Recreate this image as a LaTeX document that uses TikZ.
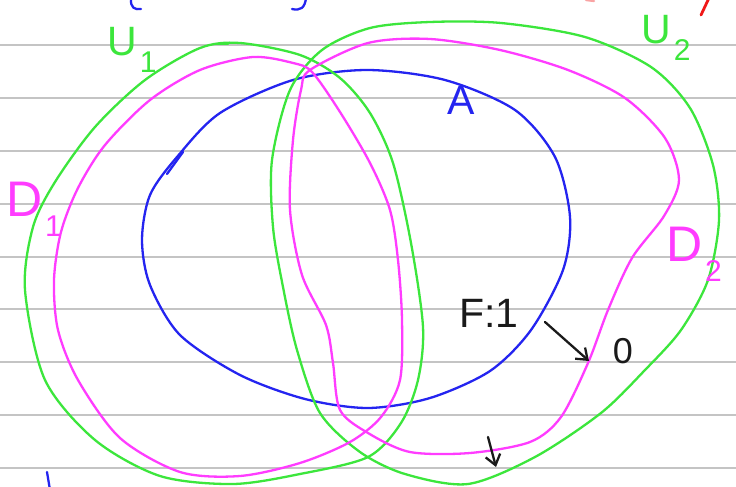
\documentclass[tikz,border=0pt]{standalone}
\usepackage{fontspec}
\setmainfont{Liberation Sans}
\usepackage{xcolor}
\usepackage{tikz}
\usetikzlibrary{arrows.meta}
\definecolor{penGreen}{HTML}{3CE63C}
\definecolor{penMagenta}{HTML}{FF3CFF}
\definecolor{penBlue}{HTML}{2424F0}
\definecolor{penRed}{HTML}{F01818}
\definecolor{penBlack}{HTML}{1A1A1A}
\definecolor{rule}{HTML}{C4C4C4}
\newcommand{\lowidx}[1]{\kern3pt\raisebox{-0.4em}{\fontsize{30}{30}\selectfont #1}}
\tikzset{
  ruling/.style={draw=rule, line width=1.1pt},
  pen/.style={line width=2.3pt, line cap=round, line join=round},
  hand/.style={inner sep=0pt, font=\fontsize{41}{41}\selectfont},
  pointer/.style={pen, draw=penBlack, -{Straight Barb[length=10pt,width=15pt]}},
}

\begin{document}
\begin{tikzpicture}[x=1pt, y=-1pt]
  \useasboundingbox (0,0) rectangle (736,487);
  \fill[white] (0,0) rectangle (736,487);
  % lined paper
  \foreach \ry in {45,98,151,204,257,309,362,415,468}
    \draw[ruling] (0,\ry) -- (736,\ry);

  % set A
  \draw[pen, draw=penBlue] plot[smooth cycle, tension=0.5] coordinates {
    (142,240) (150,195) (177,157) (220,113) (293,80) (367,70) (445,80)
    (515,110) (555,157) (570,217) (563,270) (531,330) (490,371) (430,398)
    (368,408) (305,399) (240,375) (180,335) (150,285)};
  \draw[pen, draw=penBlue] (167,174) -- (183,152);

  % open sets U1, U2
  \draw[pen, draw=penGreen] plot[smooth cycle, tension=0.5] coordinates {
    (25,290) (33,227) (55,182) (95,127) (145,80) (200,48) (240,43) (300,55)
    (340,78) (370,113) (393,163) (411,243) (423,327) (418,380) (401,423)
    (368,457) (300,474) (233,484) (160,476) (95,440) (45,380)};
  \draw[pen, draw=penGreen] (217,44) -- (228,44);
  \draw[pen, draw=penGreen] plot[smooth cycle, tension=0.5] coordinates {
    (370,28) (430,22) (501,23) (585,37) (651,67) (690,108) (713,165)
    (719,220) (708,280) (681,330) (645,370) (601,413) (535,457) (468,484)
    (405,474) (360,452) (320,413) (297,350) (283,287) (273,227)
    (272,160) (290,90) (322,50)};

  % sets D1, D2
  \draw[pen, draw=penMagenta] plot[smooth cycle, tension=0.5] coordinates {
    (54,280) (61,232) (78,188) (105,145) (150,100) (200,70) (253,57)
    (293,63) (312,72) (340,112) (370,163) (390,210) (398,260) (402,320)
    (400,380) (381,417) (350,442) (300,463) (240,476) (180,472)
    (120,438) (78,380) (58,330)};
  \draw[pen, draw=penMagenta] plot[smooth cycle, tension=0.5] coordinates {
    (310,70) (368,43) (430,39) (500,50) (568,70) (625,98)
    (665,138) (679,180) (664,216) (632,258) (608,310) (588,363) (561,417)
    (530,442) (470,453) (410,452) (368,433) (340,410)
    (333,363) (326,325) (302,275) (290,210) (293,140) (301,90)};

  % labels
  \node[hand, text=penBlue] (labA) at (461,100) {A};
  \node[hand, text=penGreen] (labU1) at (132,50) {U\lowidx{1}};
  \node[hand, text=penGreen] (labU2) at (666,38) {U\lowidx{2}};
  \node[hand, text=penMagenta, font=\fontsize{50}{50}\selectfont] (labD1) at (34,209) {D\lowidx{1}};
  \node[hand, text=penMagenta, font=\fontsize{50}{50}\selectfont] (labD2) at (694,254) {D\lowidx{2}};
  \node[hand, text=penBlack] (f1) at (489,313) {F:1};
  \node[hand, text=penBlack, font=\fontsize{36}{36}\selectfont] (zero) at (623,351) {0};

  % arrows
  \coordinate (fTail) at (545,322);
  \coordinate (fTip) at (589,361);
  \draw[pointer] (fTail) -- (fTip);
  \coordinate (dTail) at (488,437);
  \coordinate (dTip) at (496,467);
  \draw[pointer] (dTail) -- (dTip);

  % cut-off strokes at the edges
  \draw[pen, draw=penBlue] (131,-2) .. controls (130,8) and (135,10) .. (141,9);
  \draw[pen, draw=penBlue] (306,-2) .. controls (305,8) and (300,11) .. (292,9);
  \draw[pen, draw=penBlue] (47,472) -- (50,490);
  \draw[pen, draw=penRed, line width=2.8pt] (709,-2) -- (701,15);
  \draw[pen, draw=penRed!40] (586,0) -- (594,1);
\end{tikzpicture}
\end{document}
